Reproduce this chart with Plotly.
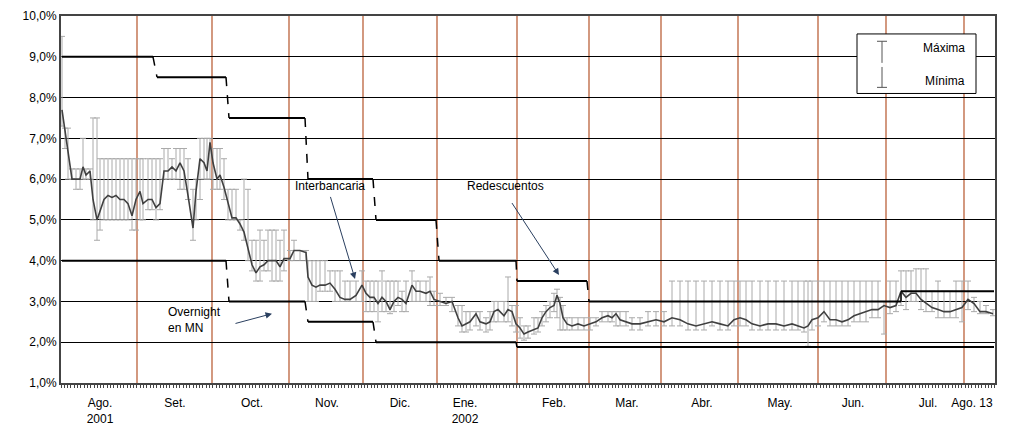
import plotly.graph_objects as go

# x = position along the time axis (trading-day scale), y = rate in %
x = [62,65,68,72,76,80,83,86,90,93,97,100,104,108,112,116,120,124,128,132,136,140,143,148,152,156,160,
     164,168,172,176,180,184,188,193,196,200,204,207,210,213,217,220,224,228,232,236,240,244,248,252,256,
     260,264,268,272,276,280,284,290,294,300,306,308,312,316,320,325,330,335,340,345,350,356,362,366,370,
     374,378,382,386,390,394,398,402,406,412,416,420,426,430,434,440,446,452,458,462,466,470,476,480,486,
     490,494,498,504,508,512,516,520,524,528,534,538,542,546,550,554,557,560,563,567,572,578,584,590,596,
     602,608,612,616,620,626,632,640,648,656,664,672,680,688,696,704,712,720,728,734,740,746,752,760,768,
     776,784,792,798,804,808,812,818,824,830,836,842,848,854,860,866,872,878,884,890,896,901,906,911,916,
     921,926,932,938,944,950,956,962,968,974,980,986,993]
interbancaria = [7.7,7.2,6.6,6.0,6.0,6.0,6.3,6.1,6.2,5.5,5.0,5.2,5.5,5.6,5.55,5.6,5.5,5.5,5.4,5.1,5.5,5.7,5.4,5.5,5.5,5.3,5.4,
     6.2,6.2,6.3,6.2,6.4,6.2,5.6,4.8,5.7,6.5,6.4,6.2,6.9,6.4,6.0,6.1,5.8,5.4,5.05,5.05,4.9,4.7,4.3,3.9,3.7,
     3.85,3.9,4.0,4.0,4.0,3.85,4.05,4.05,4.25,4.25,4.2,3.6,3.4,3.35,3.4,3.4,3.45,3.3,3.1,3.05,3.05,3.15,3.4,3.2,3.1,
     3.1,2.95,3.1,3.0,2.8,3.0,3.1,3.05,2.95,3.4,3.25,3.25,3.2,3.25,3.05,3.0,2.95,3.0,2.6,2.4,2.45,2.5,2.7,2.5,2.45,
     2.5,2.75,2.8,2.65,2.8,2.75,2.45,2.35,2.2,2.25,2.3,2.35,2.6,2.75,2.85,2.9,3.15,2.95,2.6,2.45,2.4,2.45,2.4,2.45,2.5,
     2.6,2.65,2.6,2.7,2.55,2.5,2.45,2.45,2.5,2.55,2.5,2.6,2.55,2.45,2.4,2.45,2.5,2.45,2.4,2.55,2.6,2.55,2.45,2.4,2.45,
     2.45,2.4,2.45,2.4,2.35,2.4,2.55,2.6,2.75,2.55,2.55,2.5,2.55,2.65,2.7,2.75,2.8,2.8,2.9,2.85,2.9,3.25,3.1,3.2,3.2,
     3.05,2.95,2.85,2.8,2.75,2.75,2.8,2.85,3.05,2.95,2.75,2.75,2.7]
maxima = [9.5,7.25,7.25,6.25,6.25,6.25,7.0,6.25,6.25,7.5,7.5,6.5,6.5,6.5,6.5,6.5,6.5,6.5,6.5,6.5,6.5,6.5,6.5,6.5,6.5,6.5,6.5,
     6.75,6.75,6.5,6.75,6.75,6.75,6.5,5.75,6.0,7.0,7.0,7.0,7.0,6.75,6.75,6.75,6.5,5.75,5.75,5.75,5.0,6.0,5.75,4.5,4.5,
     4.75,4.5,4.75,4.75,4.75,4.5,4.75,4.25,4.5,4.25,4.25,4.0,4.0,4.0,4.0,4.0,3.75,3.75,3.75,3.5,3.5,3.5,3.75,3.5,3.5,
     3.5,3.5,3.75,3.5,3.5,3.5,3.5,3.25,3.5,3.75,3.5,3.5,3.5,3.6,3.25,3.2,3.1,3.1,2.9,2.9,2.75,2.75,2.75,2.75,2.6,
     2.75,3.0,3.0,3.0,3.6,2.9,2.9,2.6,2.4,2.4,2.6,2.6,2.75,2.9,3.0,3.2,3.3,3.1,2.9,2.6,2.6,2.6,2.6,2.6,2.6,
     2.75,2.75,2.75,2.75,2.75,2.75,2.6,2.6,2.75,2.75,2.75,3.5,3.5,3.5,3.5,3.5,3.5,3.5,3.5,3.5,3.5,3.5,3.5,3.5,3.5,
     3.5,3.5,3.5,3.5,3.5,3.5,3.5,3.5,3.5,3.5,3.5,3.5,3.5,3.5,3.5,3.5,3.5,3.5,3.0,3.5,3.5,3.75,3.75,3.75,3.8,
     3.8,3.8,3.25,3.5,3.25,3.25,3.5,3.5,3.5,3.1,3.0,2.9,2.8]
minima = [7.3,6.75,6.0,6.0,5.75,5.75,6.0,6.0,6.0,5.0,4.5,4.75,5.0,5.0,5.0,5.0,5.0,5.0,5.0,4.75,4.75,5.0,5.0,5.25,5.25,5.0,5.25,
     6.0,6.0,6.0,6.0,5.75,5.75,5.5,4.5,5.0,5.5,6.0,6.0,6.0,5.75,5.75,5.75,5.5,5.0,5.0,5.0,4.75,4.5,4.0,3.75,3.5,
     3.5,3.75,3.75,3.5,3.5,3.5,3.75,4.0,4.0,4.0,4.0,3.0,3.0,3.0,3.25,3.25,3.25,3.0,3.0,3.0,3.0,3.0,3.0,2.75,2.75,
     2.75,2.5,2.75,2.75,2.7,2.75,2.9,2.75,2.75,3.0,3.0,3.0,3.0,2.9,2.9,2.9,2.9,2.75,2.4,2.25,2.25,2.3,2.4,2.3,2.25,
     2.3,2.5,2.5,2.5,2.5,2.4,2.25,2.1,2.05,2.1,2.2,2.25,2.4,2.5,2.6,2.75,2.6,2.3,2.3,2.3,2.3,2.3,2.3,2.3,2.4,
     2.5,2.5,2.5,2.4,2.4,2.4,2.3,2.3,2.4,2.4,2.4,2.4,2.4,2.3,2.3,2.3,2.4,2.3,2.3,2.4,2.4,2.4,2.3,2.3,2.3,
     2.3,2.3,2.3,2.3,2.25,1.9,2.3,2.4,2.5,2.4,2.4,2.4,2.4,2.5,2.5,2.5,2.6,2.6,2.2,2.7,2.75,2.9,2.8,3.0,3.0,
     2.8,2.75,2.75,2.6,2.6,2.6,2.6,2.5,2.8,2.75,2.7,2.7,2.65]

# Redescuentos (upper) and Overnight en MN (lower) steps
red_start = [62,157,229,308,376,439,517,589,901]
red_end = [153,226,305,373,436,516,587,901,994]
red_level = [9.0,8.5,7.5,6.0,5.0,4.0,3.5,3.0,3.25]
ovn_start = [62,229,308,376,517]
ovn_end = [226,305,373,516,994]
ovn_level = [4.0,3.0,2.5,2.0,1.88]

month_lines = [137,212,289,363,437,517,589,661,738,818,886,964]
month_pos = [100,175,252,327,400,465,554,627,702,780,853,928,972]
month_text = ["Ago.<br>2001","Set.","Oct.","Nov.","Dic.","Ene.<br>2002","Feb.","Mar.","Abr.","May.","Jun.","Jul.","Ago. 13"]
y_ticks = [1,2,3,4,5,6,7,8,9,10]
y_text = ["1,0%","2,0%","3,0%","4,0%","5,0%","6,0%","7,0%","8,0%","9,0%","10,0%"]

fig = go.Figure()

for xv in month_lines:
    fig.add_vline(x=xv, line=dict(color="#b5542a", width=1.2), layer="below")

fig.add_trace(go.Scatter(
    x=x, y=interbancaria, mode="markers", marker=dict(size=0.1, color="rgba(0,0,0,0)"),
    error_y=dict(type="data", symmetric=False,
                 array=[h - v for h, v in zip(maxima, interbancaria)],
                 arrayminus=[v - l for v, l in zip(interbancaria, minima)],
                 color="#aaaaaa", thickness=1, width=3),
    showlegend=False, hoverinfo="skip"))

fig.add_trace(go.Scatter(x=x, y=interbancaria, mode="lines",
                         line=dict(color="#404040", width=1.6), showlegend=False))

def steps(starts, ends, levels):
    for i in range(len(levels)):
        fig.add_trace(go.Scatter(x=[starts[i], ends[i]], y=[levels[i], levels[i]], mode="lines",
                                 line=dict(color="black", width=2), showlegend=False))
        if i + 1 < len(levels):
            fig.add_trace(go.Scatter(x=[ends[i], starts[i + 1]], y=[levels[i], levels[i + 1]], mode="lines",
                                     line=dict(color="black", width=1.5, dash="dash"), showlegend=False))

steps(red_start, red_end, red_level)
steps(ovn_start, ovn_end, ovn_level)

font = dict(family="Liberation Sans, Arial", size=12, color="black")
fig.add_annotation(x=355, y=3.55, ax=330, ay=5.6, axref="x", ayref="y", text="",
                   showarrow=True, arrowhead=2, arrowsize=1.3, arrowwidth=1)
fig.add_annotation(x=330, y=5.6, text="Interbancaria", showarrow=False, font=font, yanchor="bottom")
fig.add_annotation(x=272, y=2.7, ax=234, ay=2.45, axref="x", ayref="y", text="",
                   showarrow=True, arrowhead=2, arrowsize=1.3, arrowwidth=1)
fig.add_annotation(x=166, y=2.55, text="Overnight<br>en MN", showarrow=False, font=font,
                   xanchor="left", align="left")
fig.add_annotation(x=559, y=3.65, ax=511, ay=5.45, axref="x", ayref="y", text="",
                   showarrow=True, arrowhead=2, arrowsize=1.3, arrowwidth=1)
fig.add_annotation(x=505, y=5.6, text="Redescuentos", showarrow=False, font=font, yanchor="bottom")

# legend box
fig.add_shape(type="rect", x0=857, x1=976, y0=8.1, y1=9.56, line=dict(color="black", width=1),
              fillcolor="white", layer="above")
fig.add_shape(type="line", x0=882, x1=882, y0=8.85, y1=9.38, line=dict(color="#555", width=1))
fig.add_shape(type="line", x0=877, x1=887, y0=9.38, y1=9.38, line=dict(color="#555", width=1))
fig.add_shape(type="line", x0=882, x1=882, y0=8.25, y1=8.75, line=dict(color="#555", width=1))
fig.add_shape(type="line", x0=877, x1=887, y0=8.25, y1=8.25, line=dict(color="#555", width=1))
fig.add_annotation(x=967, y=9.22, text="Máxima", showarrow=False, font=font, xanchor="right")
fig.add_annotation(x=967, y=8.4, text="Mínima", showarrow=False, font=font, xanchor="right")

fig.update_layout(
    width=1022, height=430, margin=dict(l=53, r=35, t=8, b=55, autoexpand=False),
    plot_bgcolor="white", paper_bgcolor="white", font=font,
    xaxis=dict(range=[61, 995], tickvals=month_pos, ticktext=month_text, showgrid=False,
               ticks="", showline=True, linecolor="#444", linewidth=2, mirror=True, zeroline=False,
               automargin=False, ticklabelstandoff=8,
               minor=dict(ticks="outside", dtick=3.3, ticklen=3, tickcolor="#444", tick0=61)),
    yaxis=dict(range=[1, 10], tickvals=y_ticks, ticktext=y_text, showgrid=True, gridcolor="black",
               gridwidth=1, showline=True, linecolor="#444", linewidth=2, mirror=True,
               ticks="", zeroline=False, automargin=False),
)

fig.write_html("out.html")
